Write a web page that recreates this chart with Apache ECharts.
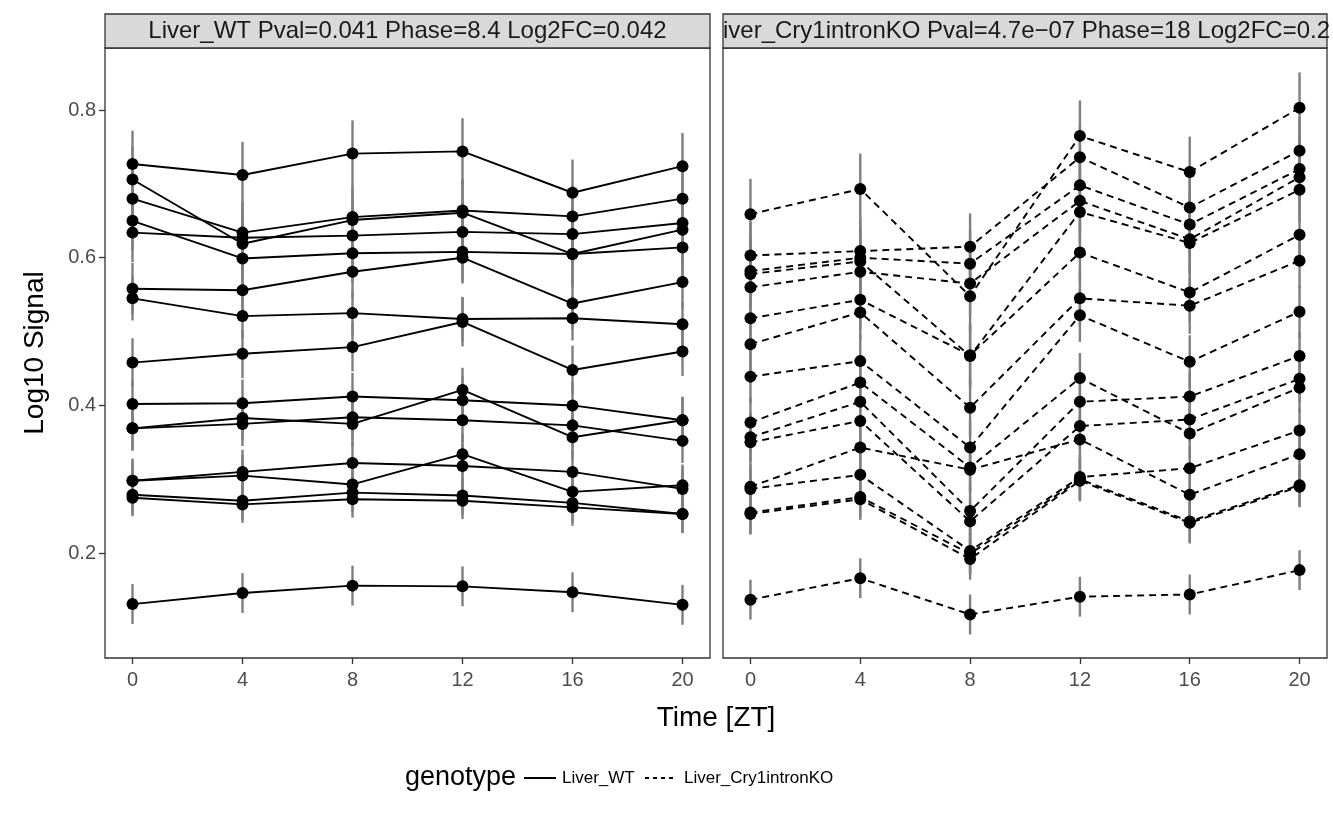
<!DOCTYPE html>
<html>
<head>
<meta charset="utf-8">
<script src="https://cdn.jsdelivr.net/npm/echarts@6/dist/echarts.min.js"></script>
<style>
html,body{margin:0;padding:0;background:#fff;}
#chart{width:1333px;height:817px;}
</style>
</head>
<body>
<div id="chart"></div>
<script>
// ---- data ----
const times = [0, 4, 8, 12, 16, 20];
const xTicks = [0, 4, 8, 12, 16, 20];
const yTicks = [0.2, 0.4, 0.6, 0.8];
const panelTitles = ['Liver_WT Pval=0.041 Phase=8.4 Log2FC=0.042',
                     'iver_Cry1intronKO Pval=4.7e\u221207 Phase=18 Log2FC=0.2'];
const genotypes = ['Liver_WT', 'Liver_Cry1intronKO'];

const wtValues = [
  [0.727, 0.712, 0.741, 0.744, 0.688, 0.724],
  [0.706, 0.619, 0.651, 0.661, 0.605, 0.638],
  [0.680, 0.634, 0.655, 0.664, 0.656, 0.680],
  [0.650, 0.599, 0.606, 0.608, 0.605, 0.614],
  [0.634, 0.627, 0.630, 0.635, 0.632, 0.647],
  [0.558, 0.556, 0.581, 0.600, 0.538, 0.567],
  [0.545, 0.521, 0.525, 0.517, 0.518, 0.510],
  [0.458, 0.470, 0.479, 0.513, 0.448, 0.473],
  [0.402, 0.403, 0.412, 0.407, 0.400, 0.380],
  [0.369, 0.383, 0.375, 0.421, 0.357, 0.380],
  [0.369, 0.375, 0.384, 0.380, 0.373, 0.352],
  [0.298, 0.310, 0.322, 0.318, 0.310, 0.287],
  [0.298, 0.305, 0.293, 0.334, 0.283, 0.292],
  [0.279, 0.271, 0.282, 0.278, 0.268, 0.253],
  [0.275, 0.266, 0.273, 0.271, 0.262, 0.253],
  [0.131, 0.146, 0.156, 0.155, 0.147, 0.130]
];
const wtErr = [0.045, 0.045, 0.042, 0.040, 0.040, 0.035, 0.030, 0.033,
               0.032, 0.030, 0.030, 0.030, 0.028, 0.026, 0.025, 0.027];

const koValues = [
  [0.659, 0.693, 0.548, 0.765, 0.716, 0.803],
  [0.603, 0.609, 0.615, 0.736, 0.668, 0.745],
  [0.582, 0.600, 0.592, 0.698, 0.645, 0.720],
  [0.578, 0.595, 0.467, 0.662, 0.620, 0.692],
  [0.560, 0.581, 0.565, 0.677, 0.625, 0.709],
  [0.518, 0.543, 0.468, 0.607, 0.553, 0.631],
  [0.483, 0.526, 0.397, 0.545, 0.535, 0.596],
  [0.439, 0.460, 0.343, 0.522, 0.459, 0.527],
  [0.377, 0.431, 0.316, 0.437, 0.362, 0.424],
  [0.357, 0.405, 0.257, 0.405, 0.412, 0.467],
  [0.350, 0.379, 0.243, 0.372, 0.381, 0.436],
  [0.290, 0.343, 0.313, 0.354, 0.279, 0.334],
  [0.287, 0.306, 0.203, 0.303, 0.315, 0.366],
  [0.255, 0.276, 0.199, 0.300, 0.243, 0.292],
  [0.253, 0.273, 0.192, 0.298, 0.241, 0.290],
  [0.137, 0.166, 0.117, 0.141, 0.144, 0.177]
];
const koErr = [0.048, 0.045, 0.045, 0.044, 0.043, 0.040, 0.038, 0.036,
               0.034, 0.033, 0.032, 0.030, 0.030, 0.028, 0.028, 0.027];

// ---- chart ----
const chart = echarts.init(document.getElementById('chart'), null, {renderer: 'canvas'});
const FONT = '"Liberation Sans", Arial, Helvetica, sans-serif';

const gridBox = [
  {left: 105, top: 48, width: 605, height: 610},
  {left: 723, top: 48, width: 604, height: 610}
];

function errRender(params, api) {
  const x = api.value(0), lo = api.value(1), hi = api.value(2);
  const a = api.coord([x, lo]), b = api.coord([x, hi]);
  return {type: 'line', shape: {x1: a[0], y1: a[1], x2: b[0], y2: b[1]},
          style: {stroke: '#7f7f7f', lineWidth: 2.4}};
}

const series = [];
[[wtValues, wtErr, 'solid'], [koValues, koErr, [7, 5]]].forEach(([vals, errs, dash], pi) => {
  const errData = [];
  vals.forEach((row, li) => row.forEach((v, j) => errData.push([times[j], v - errs[li], v + errs[li]])));
  series.push({
    type: 'custom', xAxisIndex: pi, yAxisIndex: pi, renderItem: errRender,
    data: errData, encode: {x: 0, y: [1, 2]}, z: 2, silent: true
  });
  vals.forEach((row) => {
    series.push({
      type: 'line', name: genotypes[pi], xAxisIndex: pi, yAxisIndex: pi,
      data: row.map((v, j) => [times[j], v]),
      symbol: 'circle', symbolSize: 12, showSymbol: true,
      itemStyle: {color: '#000'},
      lineStyle: {color: '#000', width: 1.9, type: dash},
      z: 3, silent: true
    });
  });
});

const option = {
  animation: false,
  backgroundColor: '#fff',
  grid: gridBox.map(g => Object.assign({show: true, borderColor: '#333', borderWidth: 1.3,
                                        backgroundColor: '#fff', containLabel: false}, g)),
  xAxis: [0, 1].map(i => ({
    type: 'value', gridIndex: i, min: -1, max: 21, position: 'bottom',
    axisLine: {show: false, onZero: false},
    splitLine: {show: false},
    axisTick: {show: true, length: 6, lineStyle: {color: '#333', width: 1.3}, customValues: xTicks},
    axisLabel: {show: true, customValues: xTicks, color: '#4d4d4d', fontSize: 20, fontFamily: FONT, margin: 12}
  })),
  yAxis: [0, 1].map(i => ({
    type: 'value', gridIndex: i, min: 0.058, max: 0.884, position: 'left',
    axisLine: {show: false, onZero: false},
    splitLine: {show: false},
    axisTick: {show: i === 0, length: 6, lineStyle: {color: '#333', width: 1.3}, customValues: yTicks},
    axisLabel: {show: i === 0, customValues: yTicks, color: '#4d4d4d', fontSize: 20, fontFamily: FONT, margin: 9,
                formatter: v => v.toFixed(1)}
  })),
  series: series,
  graphic: [
    {type: 'rect', shape: {x: 105, y: 14, width: 605, height: 34},
     style: {fill: '#d9d9d9', stroke: '#333', lineWidth: 1.3}, z: 10},
    {type: 'text', x: 407.5, y: 31, style: {text: panelTitles[0], fill: '#1a1a1a', font: '24px ' + FONT,
      textAlign: 'center', textVerticalAlign: 'middle'}, z: 11},
    {type: 'rect', shape: {x: 723, y: 14, width: 604, height: 34},
     style: {fill: '#d9d9d9', stroke: '#333', lineWidth: 1.3}, z: 10},
    {type: 'text', x: 723, y: 31, style: {text: panelTitles[1], fill: '#1a1a1a', font: '24px ' + FONT,
      textAlign: 'left', textVerticalAlign: 'middle'}, z: 11},
    {type: 'text', x: 716, y: 718, style: {text: 'Time [ZT]', fill: '#000', font: '28px ' + FONT,
      textAlign: 'center', textVerticalAlign: 'middle'}, z: 11},
    {type: 'text', x: 35, y: 353, rotation: Math.PI / 2, style: {text: 'Log10 Signal', fill: '#000', font: '28px ' + FONT,
      textAlign: 'center', textVerticalAlign: 'middle'}, z: 11},
    // legend
    {type: 'text', x: 405, y: 778, style: {text: 'genotype', fill: '#000', font: '27px ' + FONT,
      textAlign: 'left', textVerticalAlign: 'middle'}, z: 11},
    {type: 'line', shape: {x1: 524, y1: 778, x2: 556, y2: 778}, style: {stroke: '#000', lineWidth: 2}, z: 11},
    {type: 'text', x: 562, y: 778, style: {text: genotypes[0], fill: '#000', font: '17px ' + FONT,
      textAlign: 'left', textVerticalAlign: 'middle'}, z: 11},
    {type: 'line', shape: {x1: 645, y1: 778, x2: 677, y2: 778}, style: {stroke: '#000', lineWidth: 2, lineDash: [4, 4]}, z: 11},
    {type: 'text', x: 684, y: 778, style: {text: genotypes[1], fill: '#000', font: '17px ' + FONT,
      textAlign: 'left', textVerticalAlign: 'middle'}, z: 11}
  ]
};
chart.setOption(option);
</script>
</body>
</html>
